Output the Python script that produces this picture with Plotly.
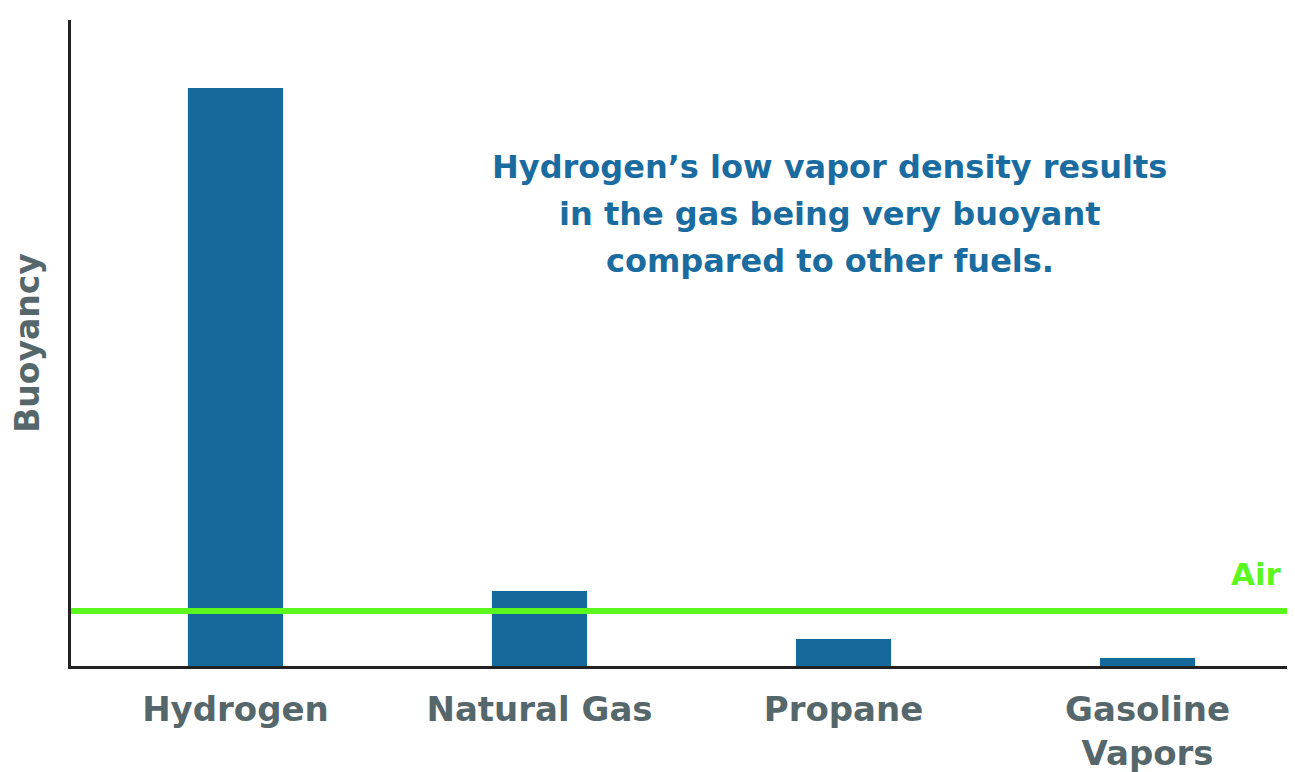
import plotly.graph_objects as go

categories = ["Hydrogen", "Natural Gas", "Propane", "Gasoline<br>Vapors"]
buoyancy = [578, 75, 27, 8]
air_level = 55
y_max = 646

note_lines = [
    "Hydrogen’s low vapor density results",
    "in the gas being very buoyant",
    "compared to other fuels.",
]
note_y = [0.7724, 0.6997, 0.6269]

BAR = "#15699b"
GREEN = "#5cf71c"
GRAY = "#55676b"
BLUE_TXT = "#1a6ca0"
FONT = "'DejaVu Sans', sans-serif"

fig = go.Figure()
fig.add_trace(go.Bar(
    x=list(range(len(categories))), y=buoyancy,
    marker=dict(color=BAR, line=dict(width=0)),
    width=0.313,
))
fig.add_shape(type="line", xref="paper", yref="y", x0=0, x1=1,
              y0=air_level, y1=air_level, line=dict(color=GREEN, width=6))
fig.add_annotation(xref="paper", yref="y", x=0.991, y=air_level, text="<b>Air</b>",
                   showarrow=False, xanchor="right", yanchor="bottom", yshift=17,
                   font=dict(family=FONT, size=31, color=GREEN))
for line, yy in zip(note_lines, note_y):
    fig.add_annotation(xref="paper", yref="paper", x=0.620, y=yy,
                       text=f"<b>{line}</b>",
                       showarrow=False, xanchor="center", yanchor="middle",
                       font=dict(family=FONT, size=32, color=BLUE_TXT))

# page body has an 8px margin, so the figure is sized to fit the window
fig.update_layout(
    width=1287, height=764,
    margin=dict(l=63, r=0, t=12, b=106),
    paper_bgcolor="white", plot_bgcolor="white",
    showlegend=False,
    xaxis=dict(
        range=[-0.541, 3.485], automargin=False,
        tickmode="array", tickvals=list(range(len(categories))),
        ticktext=[f"<b>{c}</b>" for c in categories],
        showline=True, linecolor="#222", linewidth=3,
        showgrid=False, zeroline=False, ticks="",
        tickfont=dict(family=FONT, size=34, color=GRAY),
        ticklabelstandoff=11,
    ),
    yaxis=dict(
        range=[0, y_max], automargin=False,
        showline=True, linecolor="#222", linewidth=3,
        showgrid=False, zeroline=False, ticks="", showticklabels=False,
        title=dict(text="<b>Buoyancy</b>", standoff=20,
                   font=dict(family=FONT, size=33, color=GRAY)),
    ),
)

fig.write_html("out.html")
